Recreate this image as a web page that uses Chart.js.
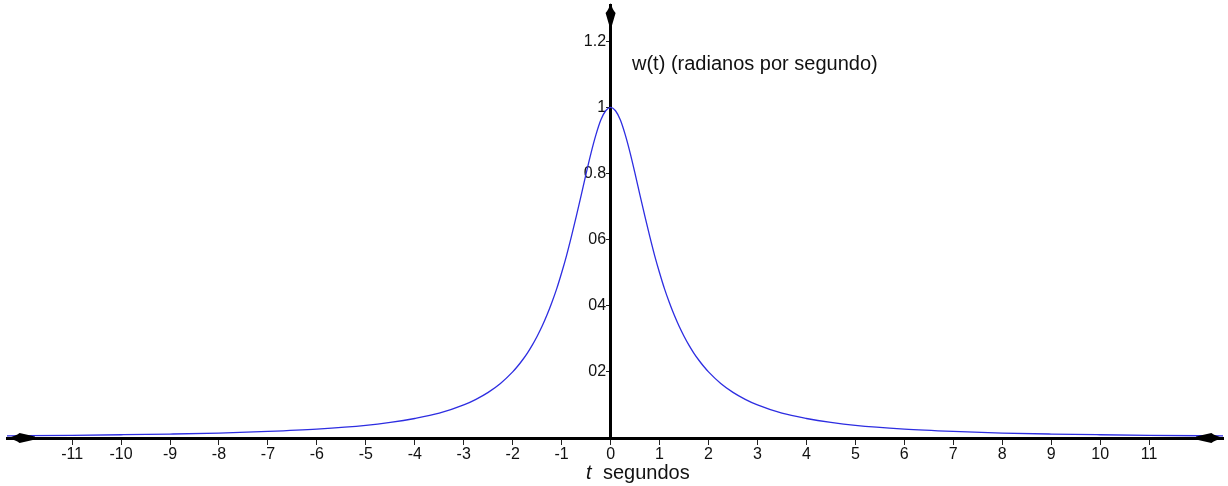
<!DOCTYPE html>
<html>
<head>
<meta charset="utf-8">
<script src="https://cdn.jsdelivr.net/npm/chart.js@4.4.1/dist/chart.umd.min.js"></script>
<style>
  body { margin: 0; background: #fff; }
  #wrap { width: 1228px; height: 486px; }
</style>
</head>
<body>
<div id="wrap"><canvas id="grafico" width="1228" height="486"></canvas></div>
<script>
// t (segundos) and w(t)
const tValues = [-12.4, -11, -10, -9, -8, -7, -6, -5, -4.5, -4, -3.5, -3, -2.75, -2.5, -2.25,
  -2, -1.9, -1.8, -1.7, -1.6, -1.5, -1.4, -1.3, -1.2, -1.1, -1, -0.9, -0.8, -0.7, -0.6, -0.5, -0.4, -0.3, -0.2, -0.1,
  0, 0.1, 0.2, 0.3, 0.4, 0.5, 0.6, 0.7, 0.8, 0.9, 1, 1.1, 1.2, 1.3, 1.4, 1.5, 1.6, 1.7, 1.8, 1.9, 2,
  2.25, 2.5, 2.75, 3, 3.5, 4, 4.5, 5, 6, 7, 8, 9, 10, 11, 12.6];
const wValues = [0.0064, 0.0082, 0.0099, 0.012, 0.015, 0.020, 0.027, 0.038, 0.047, 0.059, 0.075, 0.100, 0.117, 0.138, 0.165,
  0.200, 0.217, 0.236, 0.257, 0.281, 0.308, 0.338, 0.372, 0.410, 0.452, 0.500, 0.552, 0.610, 0.671, 0.735, 0.800, 0.862, 0.917, 0.962, 0.990,
  1.000, 0.990, 0.962, 0.917, 0.862, 0.800, 0.735, 0.671, 0.610, 0.552, 0.500, 0.452, 0.410, 0.372, 0.338, 0.308, 0.281, 0.257, 0.236, 0.217, 0.200,
  0.165, 0.138, 0.117, 0.100, 0.075, 0.059, 0.047, 0.038, 0.027, 0.020, 0.015, 0.012, 0.0099, 0.0082, 0.0062];

// tick labels as printed on the figure
const xTicks = [-11, -10, -9, -8, -7, -6, -5, -4, -3, -2, -1, 0, 1, 2, 3, 4, 5, 6, 7, 8, 9, 10, 11];
const xTickLabels = xTicks.map(v => String(v));
const yTicks = [0.2, 0.4, 0.6, 0.8, 1, 1.2];
const yTickLabels = ["02", "04", "06", "0.8", "1", "1.2"];

const points = tValues.map((t, i) => ({ x: t, y: wValues[i] }));

// arrows at the axis ends + the two captions
const axisExtras = {
  id: "axisExtras",
  afterDraw(chart) {
    const ctx = chart.ctx;
    const area = chart.chartArea;
    const y0 = chart.scales.y.getPixelForValue(0);
    const x0 = chart.scales.x.getPixelForValue(0);
    ctx.save();
    ctx.fillStyle = "#000";

    function arrow(tipX, tipY, dirX, dirY, len) {
      // dir points from the tip back along the axis
      const nx = -dirY, ny = dirX;
      const wing = len * 0.45;
      ctx.beginPath();
      ctx.moveTo(tipX, tipY);
      ctx.quadraticCurveTo(tipX + dirX * wing * 0.7 + nx * 2, tipY + dirY * wing * 0.7 + ny * 2,
        tipX + dirX * wing + nx * 5, tipY + dirY * wing + ny * 5);
      ctx.lineTo(tipX + dirX * len + nx * 1.5, tipY + dirY * len + ny * 1.5);
      ctx.lineTo(tipX + dirX * len - nx * 1.5, tipY + dirY * len - ny * 1.5);
      ctx.lineTo(tipX + dirX * wing - nx * 5, tipY + dirY * wing - ny * 5);
      ctx.quadraticCurveTo(tipX + dirX * wing * 0.7 - nx * 2, tipY + dirY * wing * 0.7 - ny * 2,
        tipX, tipY);
      ctx.closePath();
      ctx.fill();
    }
    arrow(area.left, y0, 1, 0, 28);
    arrow(area.right + 1, y0, -1, 0, 28);
    arrow(x0, area.top - 2, 0, 1, 22);

    ctx.fillStyle = "#111";
    ctx.textBaseline = "alphabetic";
    ctx.font = "20px 'Liberation Sans', Arial, sans-serif";
    ctx.fillText("w(t) (radianos por segundo)", 632, 70);
    ctx.fillText("segundos", 603, 479);
    ctx.font = "italic 20px 'Liberation Sans', Arial, sans-serif";
    ctx.fillText("t", 586, 479);
    ctx.restore();
  }
};

new Chart(document.getElementById("grafico"), {
  type: "line",
  data: {
    datasets: [{
      data: points,
      borderColor: "rgb(45,45,225)",
      borderWidth: 1.3,
      pointRadius: 0,
      cubicInterpolationMode: "monotone",
      fill: false
    }]
  },
  options: {
    responsive: false,
    animation: false,
    events: [],
    layout: { padding: { left: 7, right: 5, top: 5, bottom: 48 } },
    plugins: { legend: { display: false }, tooltip: { enabled: false } },
    scales: {
      x: {
        type: "linear",
        min: -12.33,
        max: 12.51,
        position: { y: 0 },
        afterBuildTicks(scale) { scale.ticks = xTicks.map(v => ({ value: v })); },
        ticks: {
          autoSkip: false,
          maxRotation: 0,
          padding: 2,
          color: "#111",
          font: { family: "'Liberation Sans', Arial, sans-serif", size: 16 },
          callback: (v, i) => xTickLabels[i]
        },
        grid: { drawOnChartArea: false, tickLength: 5, color: "#222", lineWidth: 1 },
        border: { display: true, color: "#000", width: 3 }
      },
      y: {
        type: "linear",
        min: 0,
        max: 1.31,
        position: { x: 0 },
        afterBuildTicks(scale) { scale.ticks = yTicks.map(v => ({ value: v })); },
        ticks: {
          autoSkip: false,
          padding: 1,
          color: "#111",
          font: { family: "'Liberation Sans', Arial, sans-serif", size: 16, lineHeight: 0.5 },
          // thin spaces keep the label clear of the centred axis line
          callback: (v, i) => yTickLabels[i] + "\u2009\u200A"
        },
        grid: { drawOnChartArea: false, tickLength: 3, color: "#222", lineWidth: 1 },
        border: { display: true, color: "#000", width: 3 }
      }
    }
  },
  plugins: [axisExtras]
});
</script>
</body>
</html>
